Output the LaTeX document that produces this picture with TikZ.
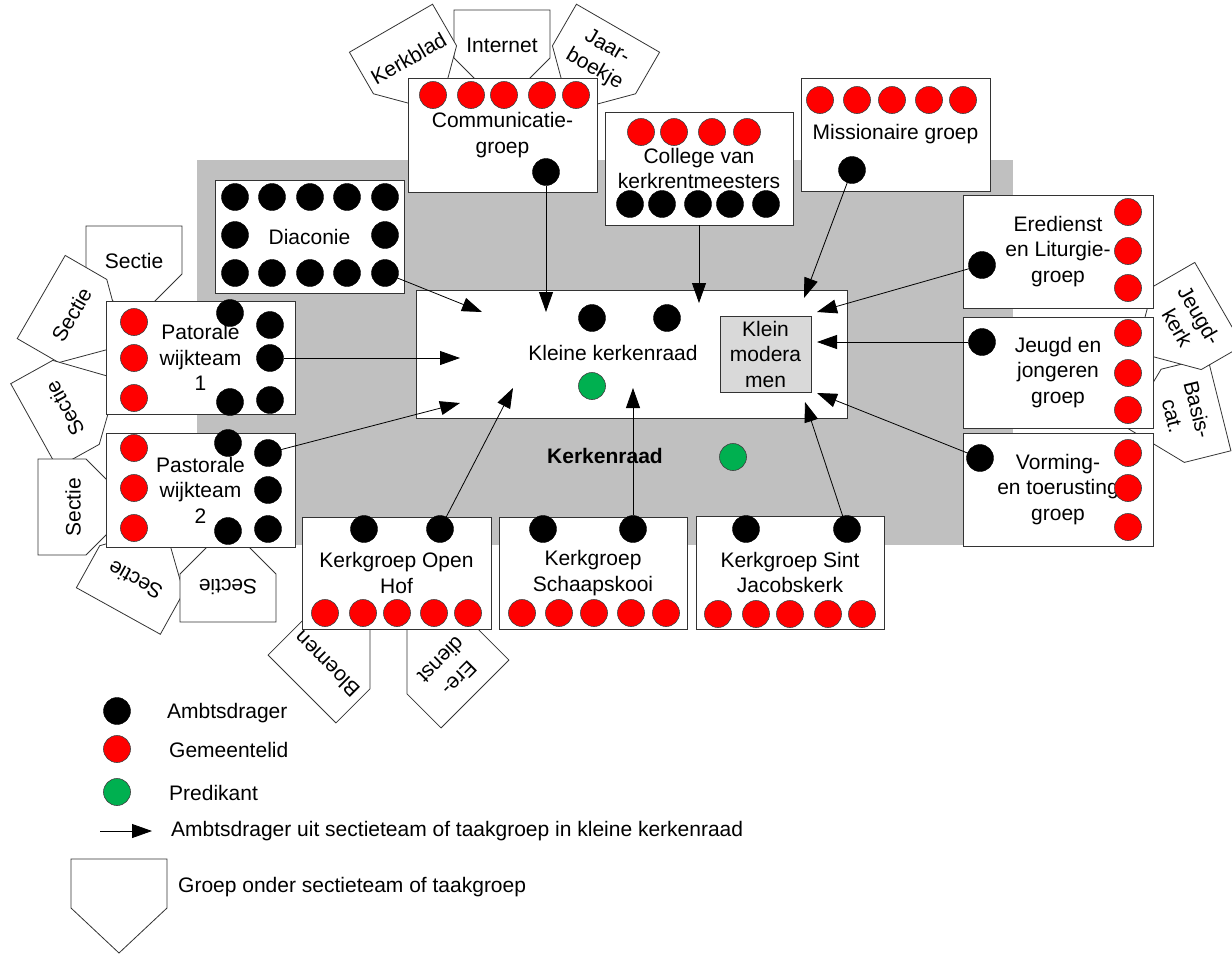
\documentclass[tikz,border=0pt]{standalone}
\usepackage{fontspec}
\setmainfont{Liberation Sans}
\usetikzlibrary{arrows.meta,shapes.geometric}
\definecolor{kred}{HTML}{FF0000}
\definecolor{kgreen}{HTML}{00B050}
\definecolor{kgray}{HTML}{C0C0C0}
\definecolor{kmod}{HTML}{D9D9D9}
\newcommand{\lbfont}{\fontsize{21}{25.5}\selectfont}
\tikzset{
  box/.style={draw=black!80,fill=white,line width=0.8pt},
  lbl/.style={font=\lbfont,align=center,inner sep=0pt},
  grp/.style={box,lbl,minimum width=189pt,minimum height=113pt},
  amb/.style={circle,draw=black,fill=black,minimum size=27pt,inner sep=0pt},
  lid/.style={circle,draw=black!75,fill=kred,line width=0.6pt,minimum size=27pt,inner sep=0pt},
  pred/.style={circle,draw=black!75,fill=kgreen,line width=0.6pt,minimum size=27pt,inner sep=0pt},
  arr/.style={-{Triangle[length=20pt,width=14pt]},line width=0.8pt},
  pics/sect/.style={code={
    \draw[box] (-48,-24) -- (48,-24) -- (48,24) -- (0,72) -- (-48,24) -- cycle;
    \node[lbl,transform shape] (-t) at (0,11) {#1};
  }},
}
\begin{document}
\begin{tikzpicture}[x=1pt,y=-1pt]
\useasboundingbox (0,0) rectangle (1232,954);
\clip (0,0) rectangle (1232,954);

\pic (s1) at (134,250) {sect=Sectie};
\pic[rotate=60] (s2) at (62,309) {sect=Sectie};
\pic[rotate=119] (s3) at (55,414) {sect=Sectie};
\pic[rotate=90] (s4) at (62,507) {sect=Sectie};
\pic[rotate=151] (s5) at (130,590) {sect=Sectie};
\pic[rotate=180] (s6) at (228,598) {sect=Sectie};
\pic (inet) at (502,34) {sect=Internet};
\pic[rotate=30] (kblad) at (403,49) {sect=Kerkblad};
\pic[rotate=-30] (jboek) at (606,49) {sect={Jaar-\\boekje}};
\pic[rotate=-76] (bcat) at (1196,410) {sect={Basis-\\cat.}};
\pic[rotate=-60] (jkerk) at (1198,316) {sect={Jeugd-\\kerk}};
\pic[rotate=135] (bloem) at (319,672) {sect=Bloemen};
\pic[rotate=-135] (ered) at (458,677) {sect={Ere-\\dienst}};

\fill[kgray] (197,160) rectangle (1013,545);
\node[lbl,font=\lbfont\bfseries] (krt) at (605,456) {Kerkenraad};
\node[pred] (kr-p) at (733,457) {};

\node[box,minimum width=431pt,minimum height=128pt] (kk) at (631.5,354) {};
\node[lbl] (kkt) at (613,353) {Kleine kerkenraad};
\node[box,lbl,fill=kmod,minimum width=91pt,minimum height=76pt] (mod) at (765.5,354) {Klein\\modera\\men};
\node[amb] (kk-b1) at (592,318) {};
\node[amb] (kk-b2) at (667,318) {};
\node[pred] (kk-p) at (592,386) {};

\node[grp] (dia) at (309.5,236.5) {Diaconie};
\node[grp,minimum height=114pt] (cg) at (502.5,135) {Communicatie-\\groep};
\node[grp,minimum width=188pt] (col) at (699,168.5) {College van\\kerkrentmeesters};
\node[grp] (mis) at (895.5,134.5) {Missionaire groep};
\node[grp,minimum width=190pt] (ere) at (1058,251.5) {Eredienst\\en Liturgie-\\groep};
\node[grp,minimum width=190pt,minimum height=111pt] (jj) at (1058,372.5) {Jeugd en\\jongeren\\groep};
\node[grp,minimum width=190pt] (vt) at (1058,489.5) {Vorming-\\en toerusting\\groep};
\node[grp] (pw1) at (200.5,357.5) {Patorale\\wijkteam\\1};
\node[grp,minimum height=114pt] (pw2) at (200.5,490) {Pastorale\\wijkteam\\2};
\node[grp,minimum height=112pt] (oh) at (396.5,573) {Kerkgroep Open\\Hof};
\node[grp,minimum width=188pt,minimum height=112pt] (sk) at (593,573) {Kerkgroep\\Schaapskooi};
\node[grp,minimum width=188pt] (sj) at (790,572.5) {Kerkgroep Sint\\Jacobskerk};

\foreach \x [count=\i] in {235,272,310,347,385} \node[amb] (dia-a\i) at (\x,197) {};
\foreach \x [count=\i] in {235,272,310,347,385} \node[amb] (dia-c\i) at (\x,273) {};
\node[amb] (dia-b1) at (235,235) {};
\node[amb] (dia-b2) at (385,235) {};

\foreach \x [count=\i] in {433,471,504,542,576} \node[lid] (cg-r\i) at (\x,95) {};
\node[amb] (cg-b) at (546,172) {};

\foreach \x [count=\i] in {641,674,712,747} \node[lid] (col-r\i) at (\x,132) {};
\foreach \x [count=\i] in {630,662,698,730,766} \node[amb] (col-b\i) at (\x,204) {};

\foreach \x [count=\i] in {820,857,892,929,963} \node[lid] (mis-r\i) at (\x,100) {};
\node[amb] (mis-b) at (852,170) {};

\foreach \y [count=\i] in {212,251,288} \node[lid] (ere-r\i) at (1128,\y) {};
\node[amb] (ere-b) at (982,265) {};
\foreach \y [count=\i] in {333,373,410} \node[lid] (jj-r\i) at (1128,\y) {};
\node[amb] (jj-b) at (982,342) {};
\foreach \y [count=\i] in {453,488,527} \node[lid] (vt-r\i) at (1128,\y) {};
\node[amb] (vt-b) at (980,458) {};

\foreach \y [count=\i] in {322,358,398} \node[lid] (pw1-r\i) at (134,\y) {};
\node[amb] (pw1-b1) at (230,313) {};
\node[amb] (pw1-b2) at (270,325) {};
\node[amb] (pw1-b3) at (270,358) {};
\node[amb] (pw1-b4) at (230,402) {};
\node[amb] (pw1-b5) at (270,400) {};

\foreach \y [count=\i] in {448,488,528} \node[lid] (pw2-r\i) at (134,\y) {};
\node[amb] (pw2-b1) at (228,443) {};
\node[amb] (pw2-b2) at (268,453) {};
\node[amb] (pw2-b3) at (268,490) {};
\node[amb] (pw2-b4) at (228,531) {};
\node[amb] (pw2-b5) at (268,529) {};

\node[amb] (oh-b1) at (364,529) {};
\node[amb] (oh-b2) at (440,529) {};
\foreach \x [count=\i] in {325,363,397,434,468} \node[lid] (oh-r\i) at (\x,613) {};
\node[amb] (sk-b1) at (543,529) {};
\node[amb] (sk-b2) at (633,529) {};
\foreach \x [count=\i] in {522,559,594,631,666} \node[lid] (sk-r\i) at (\x,613) {};
\node[amb] (sj-b1) at (746,529) {};
\node[amb] (sj-b2) at (847,529) {};
\foreach \x [count=\i] in {718,756,790,828,862} \node[lid] (sj-r\i) at (\x,614) {};

\coordinate (t-dia) at (482,312);
\coordinate (t-cg) at (546,312);
\coordinate (t-col) at (699,303);
\coordinate (t-mis) at (804,298);
\coordinate (t-ere) at (817,312);
\coordinate (t-jj) at (817,342);
\coordinate (t-vt) at (817,393);
\coordinate (t-pw1) at (460,358);
\coordinate (t-pw2) at (460,403);
\coordinate (t-oh) at (513,388);
\coordinate (t-sk) at (633,388);
\coordinate (t-sj) at (805,402);
\draw[arr] (dia-c5) -- (t-dia);
\draw[arr] (cg-b) -- (t-cg);
\draw[arr] (col.south) -- (t-col);
\draw[arr] (mis-b) -- (t-mis);
\draw[arr] (ere-b) -- (t-ere);
\draw[arr] (jj-b) -- (t-jj);
\draw[arr] (vt-b) -- (t-vt);
\draw[arr] (pw1-b3) -- (t-pw1);
\draw[arr] (pw2-b2) -- (t-pw2);
\draw[arr] (oh-b2) -- (t-oh);
\draw[arr] (sk-b2) -- (t-sk);
\draw[arr] (sj-b2) -- (t-sj);

\node[amb] (lg-a) at (117,711) {};
\node[lbl,anchor=west] (lg-at) at (167,713) {Ambtsdrager};
\node[lid] (lg-g) at (117,749) {};
\node[lbl,anchor=west] (lg-gt) at (169,750) {Gemeentelid};
\node[pred] (lg-p) at (117,792) {};
\node[lbl,anchor=west] (lg-pt) at (169,793) {Predikant};
\coordinate (lg-s) at (100,831);
\coordinate (lg-e) at (152,831);
\draw[arr] (lg-s) -- (lg-e);
\node[lbl,anchor=west] (lg-et) at (171,831) {Ambtsdrager uit sectieteam of taakgroep in kleine kerkenraad};
\draw[box] (71,859) -- (167,859) -- (167,908) -- (119,953) -- (71,908) -- cycle;
\node[lbl,anchor=west] (lg-st) at (178,887) {Groep onder sectieteam of taakgroep};
\end{tikzpicture}
\end{document}
